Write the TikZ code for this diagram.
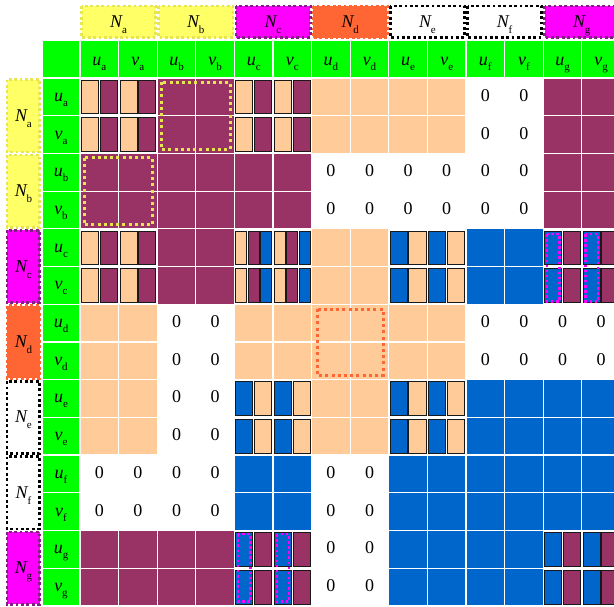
\documentclass[tikz,border=0pt]{standalone}
\usepackage{fontspec}
\setmainfont{Liberation Serif}
\definecolor{cpeach}{HTML}{FFCC99}
\definecolor{cmaroon}{HTML}{993366}
\definecolor{cblue}{HTML}{0066CC}
\definecolor{cgreen}{HTML}{00FF00}
\definecolor{cyellow}{HTML}{FFFF66}
\definecolor{cyeldot}{HTML}{E6E650}
\definecolor{cmag}{HTML}{FF00FF}
\definecolor{cmagdot}{HTML}{802080}
\definecolor{corange}{HTML}{FF6633}
\tikzset{
  bar/.style={draw=black!90, line width=1pt},
  gridline/.style={draw=white, line width=1.2pt},
  txt/.style={inner sep=0pt, anchor=base, font=\fontsize{18}{20}\selectfont},
  gbox/.style 2 args={fill=#1, draw=#2, line width=2.8pt, dash pattern=on 2.8pt off 2.6pt},
  ydots/.style={draw=cyeldot, line width=3pt, dash pattern=on 3pt off 3.2pt},
  odots/.style={draw=corange, line width=3pt, dash pattern=on 3pt off 3.2pt},
  mdots/.style={draw=cmag, line width=2.5pt, dash pattern=on 2.5pt off 2.6pt},
}
\newcommand\Nlab[1]{\textit{N}\kern-1pt\raisebox{-6pt}{\fontsize{11}{11}\selectfont #1}}
\newcommand\UVlab[2]{\textit{#1}\raisebox{-5pt}{\fontsize{11}{11}\selectfont #2}}
\newcommand\barsTwo[4]{%
  \filldraw[bar, fill=#3] (#1+1.4,#2+2.2) rectangle (#1+18.5,#2+35.9);
  \filldraw[bar, fill=#4] (#1+20.1,#2+2.2) rectangle (#1+37.2,#2+35.9);}
\newcommand\cellP[3]{\fill[cpeach] (#1,#2) rectangle ++(38.6,37.7);}
\newcommand\cellM[3]{\fill[cmaroon] (#1,#2) rectangle ++(38.6,37.7);}
\newcommand\cellB[3]{\fill[cblue] (#1,#2) rectangle ++(38.6,37.7);}
\newcommand\cellZ[3]{\node[txt] (z#3) at (#1+19.3,#2+23.3) {0};}
\newcommand\cellA[3]{\barsTwo{#1}{#2}{cpeach}{cmaroon}}
\newcommand\cellE[3]{\barsTwo{#1}{#2}{cblue}{cpeach}}
\newcommand\cellG[3]{\barsTwo{#1}{#2}{cblue}{cmaroon}}
\newcommand\cellC[3]{%
  \filldraw[bar, fill=cpeach] (#1+1.4,#2+2.2) rectangle (#1+12.3,#2+35.9);
  \filldraw[bar, fill=cmaroon] (#1+13.9,#2+2.2) rectangle (#1+24.8,#2+35.9);
  \filldraw[bar, fill=cblue] (#1+26.4,#2+2.2) rectangle (#1+37.3,#2+35.9);}
\begin{document}
\begin{tikzpicture}[x=1pt,y=-1pt]
\useasboundingbox (0,0) rectangle (614,606);
\clip (0,0) rectangle (614,606);
% green header band
\fill[cgreen] (42,40) rectangle (620,78);
\fill[cgreen] (42,78) rectangle (80,606);
% matrix cells
\foreach \rowdata [count=\j from 0] in {
 {A,A,M,M,A,A,P,P,P,P,Z,Z,M,M},
 {A,A,M,M,A,A,P,P,P,P,Z,Z,M,M},
 {M,M,M,M,M,M,Z,Z,Z,Z,Z,Z,M,M},
 {M,M,M,M,M,M,Z,Z,Z,Z,Z,Z,M,M},
 {A,A,M,M,C,C,P,P,E,E,B,B,G,G},
 {A,A,M,M,C,C,P,P,E,E,B,B,G,G},
 {P,P,Z,Z,P,P,P,P,P,P,Z,Z,Z,Z},
 {P,P,Z,Z,P,P,P,P,P,P,Z,Z,Z,Z},
 {P,P,Z,Z,E,E,P,P,E,E,B,B,B,B},
 {P,P,Z,Z,E,E,P,P,E,E,B,B,B,B},
 {Z,Z,Z,Z,B,B,Z,Z,B,B,B,B,B,B},
 {Z,Z,Z,Z,B,B,Z,Z,B,B,B,B,B,B},
 {M,M,M,M,G,G,Z,Z,B,B,B,B,G,G},
 {M,M,M,M,G,G,Z,Z,B,B,B,B,G,G}}{
  \foreach \c [count=\i from 0] in \rowdata {
    \pgfmathsetmacro\xx{80+\i*38.6}
    \pgfmathsetmacro\yy{78+\j*37.7}
    \csname cell\c\endcsname{\xx}{\yy}{\i-\j}
  }
}
% white grid lines
\draw[gridline] (42,40) -- (42,606);
\foreach \i in {0,...,14} \draw[gridline] ({80+\i*38.6},40) -- ({80+\i*38.6},606);
\draw[gridline] (42,40) -- (620,40);
\foreach \j in {0,...,14} \draw[gridline] (42,{78+\j*37.7}) -- (620,{78+\j*37.7});
% dotted overlays
\draw[ydots] (161,82) rectangle (230,149);
\draw[ydots] (84,157.5) rectangle (152.5,224.5);
\draw[odots] (317,309) rectangle (383,375);
\foreach \x in {543.2,581.8} \draw[mdots] (\x+3.8,234) rectangle (\x+16.1,301.5);
\foreach \x in {234.4,273.0} \draw[mdots] (\x+3.8,534.2) rectangle (\x+16.1,601.6);
% header labels
\foreach \s [count=\k from 0] in {a,b,c,d,e,f,g}{
  \node[txt] (hu\s) at ({80+(2*\k+0.5)*38.6},65.7) {\UVlab{u}{\s}};
  \node[txt] (hv\s) at ({80+(2*\k+1.5)*38.6},65.7) {\UVlab{v}{\s}};
  \node[txt] (ru\s) at (61,{78+(2*\k+0.5)*37.7+4.5}) {\UVlab{u}{\s}};
  \node[txt] (rv\s) at (61,{78+(2*\k+1.5)*37.7+4.5}) {\UVlab{v}{\s}};
}
% group boxes
\foreach \s/\fc/\dc [count=\k from 0] in {a/cyellow/cyeldot,b/cyellow/cyeldot,c/cmag/cmagdot,d/corange/corange,e/white/black,f/white/black,g/cmag/cmagdot}{
  \draw[gbox={\fc}{\dc}] ({80+2*\k*38.6+1.5},6) rectangle ({80+(2*\k+2)*38.6-1.5},37.5);
  \draw[gbox={\fc}{\dc}] (7,{78+2*\k*37.7+1.5}) rectangle (39.5,{78+(2*\k+2)*37.7-1.5});
  \node[txt] (tN\s) at ({80+(2*\k+1)*38.6},27.5) {\Nlab{\s}};
  \node[txt] (lN\s) at (23.5,{78+(2*\k+1)*37.7+5.5}) {\Nlab{\s}};
}
\end{tikzpicture}
\end{document}
